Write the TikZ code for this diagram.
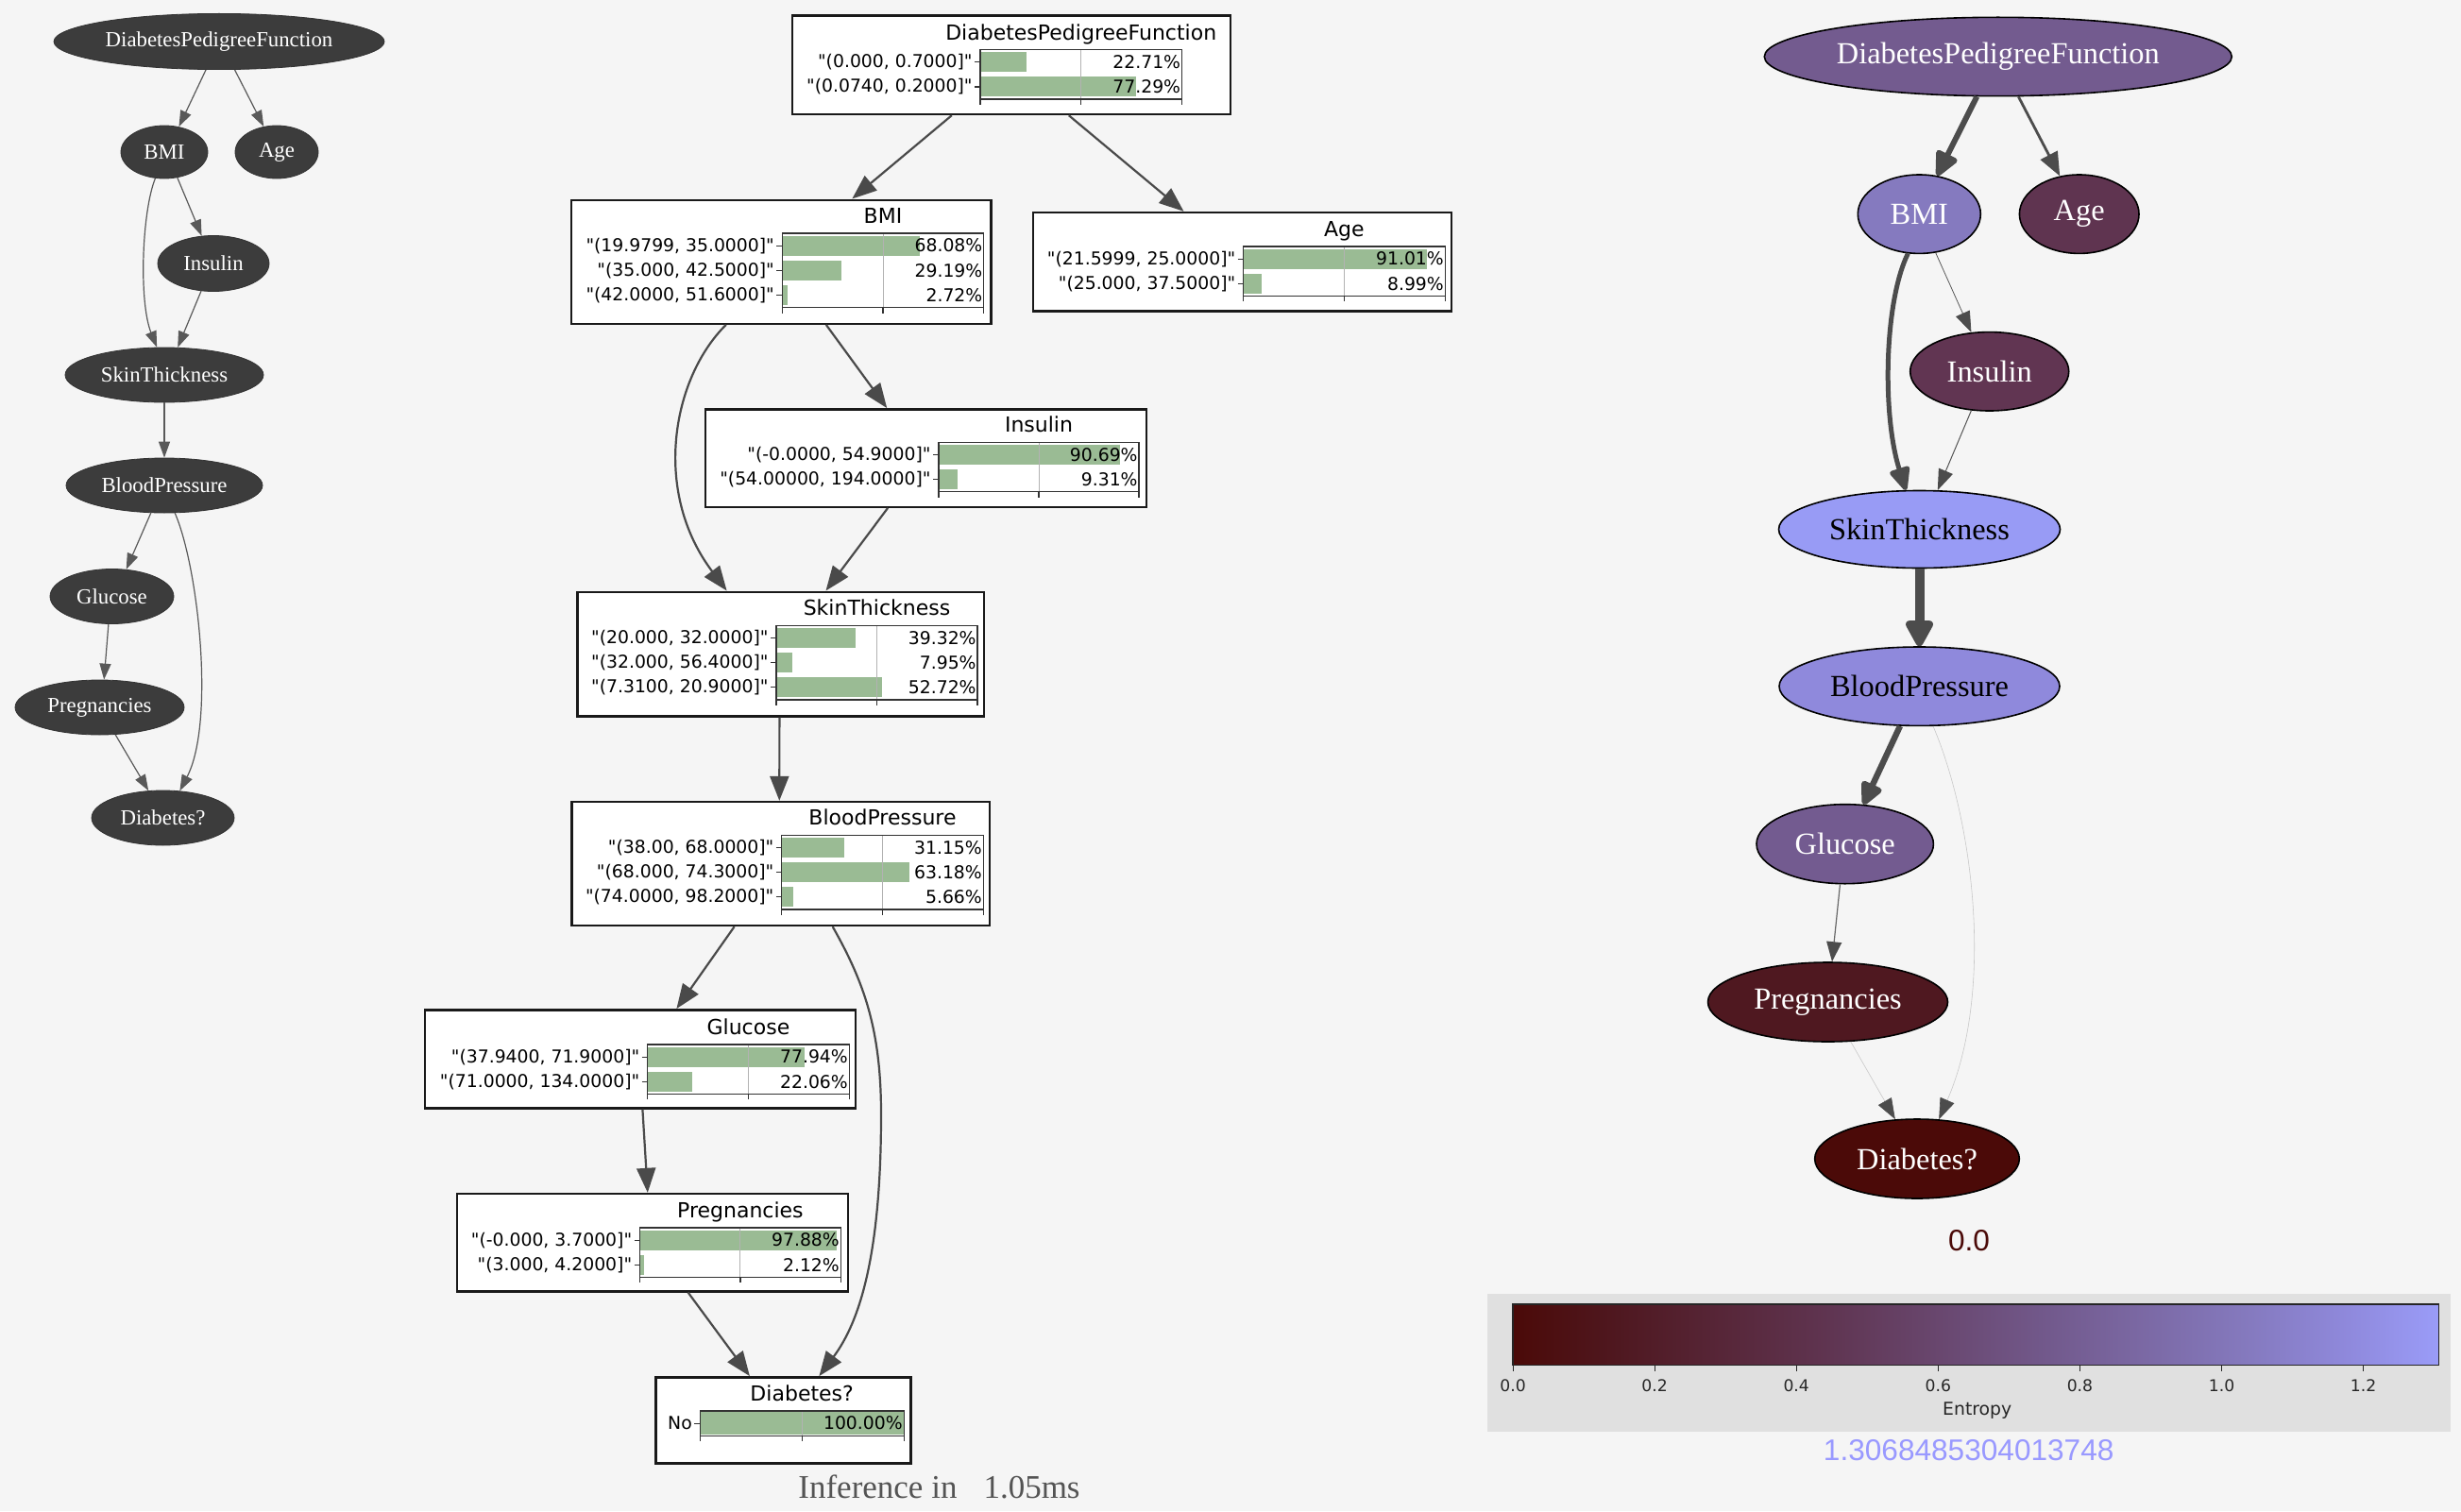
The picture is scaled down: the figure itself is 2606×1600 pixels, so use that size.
\documentclass[tikz,border=0pt]{standalone}
\usepackage{fontspec}
\setmainfont{Liberation Serif}
\newfontfamily\plotfont{DejaVu Sans}
\newfontfamily\helv{Liberation Sans}
\usetikzlibrary{arrows.meta,shapes.geometric,calc}

% palette
\definecolor{bg}{HTML}{F5F5F5}
\definecolor{darknode}{HTML}{3C3C3C}
\definecolor{edgegray}{HTML}{4A4A4A}
\definecolor{bargreen}{HTML}{9ABB94}
\definecolor{panelgray}{HTML}{E0E0E0}
\definecolor{lightedge}{HTML}{C8C8C8}
\definecolor{cDia}{HTML}{4B0A08}
\definecolor{cPreg}{HTML}{4F1820}
\definecolor{cAge}{HTML}{5F3450}
\definecolor{cIns}{HTML}{613552}
\definecolor{cDPF}{HTML}{735B8F}
\definecolor{cGlu}{HTML}{735B90}
\definecolor{cBMI}{HTML}{857ABF}
\definecolor{cBP}{HTML}{8F89DC}
\definecolor{cSkin}{HTML}{989BF5}
\definecolor{cTop}{HTML}{9A9CF8}
\definecolor{maxtext}{HTML}{9999FF}

% entropy colour scale (the path is mapped onto 25bp..75bp)
\pgfdeclarehorizontalshading{entropymap}{100bp}{color(0bp)=(cDia); color(25bp)=(cDia);
  color(30.66bp)=(cPreg); color(41.8bp)=(cAge); color(54.5bp)=(cDPF);
  color(64.8bp)=(cBMI); color(70.1bp)=(cBP); color(75bp)=(cTop); color(100bp)=(cTop)}

\tikzset{
  lnode/.style={ellipse, fill=darknode, draw=black!80, line width=0.4pt, inner sep=0pt,
    text=white, font=\fontsize{11.4}{12}\selectfont},
  ledge/.style={draw=black!65, line width=0.6pt, -{Triangle[length=8.5pt,width=6pt]}},
  cptbox/.style={rectangle, draw=black!90, fill=white, line width=1.2pt, inner sep=0pt},
  cpttitle/.style={font=\plotfont\fontsize{11}{13}\selectfont, anchor=base, inner sep=0pt},
  rowlab/.style={font=\plotfont\fontsize{9.4}{11}\selectfont, anchor=east, inner sep=0pt},
  pctlab/.style={font=\plotfont\fontsize{9.4}{11}\selectfont, anchor=east, inner sep=0pt},
  plotframe/.style={draw=black!80, line width=0.6pt},
  gridline/.style={draw=black!30, line width=0.5pt},
  marrow/.style={draw=edgegray, line width=1.1pt, -{Triangle[length=13pt,width=10pt]}},
  rnode/.style={ellipse, draw=black, line width=0.8pt, inner sep=0pt,
    font=\fontsize{16.2}{18}\selectfont},
  cbtick/.style={font=\plotfont\fontsize{8.6}{10}\selectfont, text=black!85, inner sep=0pt},
}

% horizontal bar chart of a node's marginal: prefix, left, top, right, rows label/value
\newcommand{\probplot}[5]{%
  \pgfmathsetmacro{\pw}{#4-#2}%
  \pgfmathsetmacro{\pmid}{(#2+#4)/2}%
  \foreach \lab/\val [count=\n] in {#5}{\xdef\nrows{\n}}%
  \pgfmathsetmacro{\pbot}{#3+\nrows*26.2}%
  \pgfmathsetmacro{\inset}{\nrows==1 ? 0.8 : 2.6}%
  \foreach \lab/\val [count=\n from 0] in {#5}{%
    \pgfmathsetmacro{\ya}{#3+\n*26.2+\inset}%
    \pgfmathsetmacro{\yb}{#3+(\n+1)*26.2-\inset}%
    \pgfmathsetmacro{\xb}{#2+\pw*(\val/100)}%
    \fill[bargreen] (#2,\ya) rectangle (\xb,\yb);
  }%
  \draw[gridline] (\pmid,#3) -- (\pmid,\pbot);
  \draw[plotframe] (#2,#3) rectangle (#4,\pbot);
  \foreach \tx in {#2,\pmid,#4} \draw[plotframe] (\tx,\pbot) -- (\tx,\pbot+6);
  \foreach \lab/\val [count=\n from 0] in {#5}{%
    \pgfmathsetmacro{\yc}{#3+(\n+0.5)*26.2}%
    \draw[plotframe] (#2-6,\yc) -- (#2,\yc);
    \node[rowlab] (#1-l\n) at (#2-8,\yc) {\lab};
    \node[pctlab] (#1-p\n) at (#4-1,\yc) {\val\%};
  }%
}

\begin{document}
\begin{tikzpicture}[x=0.5pt,y=-0.5pt]
\fill[bg] (0,0) rectangle (2606,1600);
\useasboundingbox (0,0) rectangle (2606,1600);

% ---------------- structure graph (left) ----------------
\node[lnode, minimum width=175pt, minimum height=29.6pt] (ldpf) at (232,44) {DiabetesPedigreeFunction};
\node[lnode, minimum width=46pt, minimum height=28pt] (lbmi) at (174,161) {BMI};
\node[lnode, minimum width=44pt, minimum height=28pt] (lage) at (293,161) {Age};
\node[lnode, minimum width=59pt, minimum height=29.5pt] (lins) at (226,279) {Insulin};
\node[lnode, minimum width=105pt, minimum height=29pt] (lskin) at (174,397) {SkinThickness};
\node[lnode, minimum width=104pt, minimum height=29pt] (lbp) at (174,514) {BloodPressure};
\node[lnode, minimum width=65.5pt, minimum height=29pt] (lglu) at (118.5,631.5) {Glucose};
\node[lnode, minimum width=89.5pt, minimum height=29pt] (lpreg) at (105.5,749) {Pregnancies};
\node[lnode, minimum width=75.5pt, minimum height=29pt] (ldia) at (172.5,866) {Diabetes?};

\draw[ledge] (ldpf.-115) -- (lbmi.60);
\draw[ledge] (ldpf.-61) -- (lage.117.7);
\draw[ledge] (lbmi.-63.3) -- (lins.113.4);
\draw[ledge] (lbmi.-109.4) .. controls (150,225) and (147,320) .. (lskin.105.7);
\draw[ledge] (lins.-114.7) -- (lskin.64.2);
\draw[ledge] (lskin.south) -- (lbp.north);
\draw[ledge] (lbp.-116.4) -- (lglu.62.7);
\draw[ledge] (lbp.-69.6) .. controls (210,600) and (228,765) .. (ldia.58.9);
\draw[ledge] (lglu.-97) -- (lpreg.81);
\draw[ledge] (lpreg.-60.6) -- (ldia.118.6);

% ---------------- marginal distributions (middle) ----------------
\node[cptbox, minimum width=231.85pt, minimum height=52.15pt] (dpfbox) at (1071.05,68.85) {};
\node[cptbox, minimum width=222.15pt, minimum height=65.5pt] (bmibox) at (827.15,277.2) {};
\node[cptbox, minimum width=221.5pt, minimum height=52.15pt] (agebox) at (1315.5,277.15) {};
\node[cptbox, minimum width=233.3pt, minimum height=51.7pt] (insbox) at (980.4,485) {};
\node[cptbox, minimum width=215.4pt, minimum height=65.8pt] (skinbox) at (826.8,692.5) {};
\node[cptbox, minimum width=221.45pt, minimum height=65.5pt] (bpbox) at (826.75,914.5) {};
\node[cptbox, minimum width=227.95pt, minimum height=52pt] (glubox) at (678.15,1121.3) {};
\node[cptbox, minimum width=206.95pt, minimum height=51.65pt] (pregbox) at (691.05,1315.65) {};
\node[cptbox, minimum width=135.1pt, minimum height=45.5pt] (diabox) at (829.4,1503.8) {};

\node[cpttitle] (dpf-t) at (1144.75,42.2) {DiabetesPedigreeFunction};
\probplot{dpf}{1038}{52.7}{1251.5}{{"(0.000, 0.7000]"}/22.71,{"(0.0740, 0.2000]"}/77.29}
\node[cpttitle] (bmi-t) at (935,236.5) {BMI};
\probplot{bmi}{828.3}{247}{1041.7}{{"(19.9799, 35.0000]"}/68.08,{"(35.000, 42.5000]"}/29.19,{"(42.0000, 51.6000]"}/2.72}
\node[cpttitle] (age-t) at (1423.45,250.5) {Age};
\probplot{age}{1316.7}{261}{1530.2}{{"(21.5999, 25.0000]"}/91.01,{"(25.000, 37.5000]"}/8.99}
\node[cpttitle] (ins-t) at (1100,457.8) {Insulin};
\probplot{ins}{994}{468.3}{1206}{{"(-0.0000, 54.9000]"}/90.69,{"(54.00000, 194.0000]"}/9.31}
\node[cpttitle] (skin-t) at (928.5,651.8) {SkinThickness};
\probplot{skin}{822}{662.3}{1035}{{"(20.000, 32.0000]"}/39.32,{"(32.000, 56.4000]"}/7.95,{"(7.3100, 20.9000]"}/52.72}
\node[cpttitle] (bp-t) at (934.5,873.8) {BloodPressure};
\probplot{bp}{827.8}{884.3}{1041.2}{{"(38.00, 68.0000]"}/31.15,{"(68.000, 74.3000]"}/63.18,{"(74.0000, 98.2000]"}/5.66}
\node[cpttitle] (glu-t) at (792.45,1095.5) {Glucose};
\probplot{glu}{685.7}{1106}{899.2}{{"(37.9400, 71.9000]"}/77.94,{"(71.0000, 134.0000]"}/22.06}
\node[cpttitle] (preg-t) at (783.9,1289.5) {Pregnancies};
\probplot{preg}{677.6}{1300}{890.2}{{"(-0.000, 3.7000]"}/97.88,{"(3.000, 4.2000]"}/2.12}
\node[cpttitle] (dia-t) at (849.15,1483.5) {Diabetes?};
\probplot{dia}{741.2}{1494}{957.1}{{No}/100.00}

\draw[marrow] ($(dpfbox.south west)+(169.8,0)$) -- ($(bmibox.north west)+(298.5,0)$);
\draw[marrow] ($(dpfbox.south west)+(293.8,0)$) -- ($(agebox.north west)+(160.7,0)$);
\draw[marrow] ($(bmibox.south west)+(271,0)$) -- ($(insbox.north west)+(193.3,0)$);
\draw[marrow] ($(bmibox.south west)+(165,0)$) .. controls (712,400) and (690,520) .. ($(skinbox.north west)+(159.4,0)$);
\draw[marrow] ($(insbox.south west)+(194.2,0)$) -- ($(skinbox.north west)+(264.3,0)$);
\draw[marrow] ($(skinbox.south west)+(215.2,0)$) -- ($(bpbox.north west)+(221.2,0)$);
\draw[marrow] ($(bpbox.south west)+(173.5,0)$) -- ($(glubox.north west)+(267.4,0)$);
\draw[marrow] ($(bpbox.south west)+(277.6,0)$) .. controls (915,1040) and (933,1090) .. (933,1180)
  .. controls (933,1330) and (910,1400) .. ($(diabox.north west)+(174.3,0)$);
\draw[marrow] ($(glubox.south west)+(231.4,0)$) -- ($(pregbox.north west)+(202.9,0)$);
\draw[marrow] ($(pregbox.south west)+(245.7,0)$) -- ($(diabox.north west)+(100.8,0)$);

\node[font=\fontsize{17.5}{20}\selectfont, text=black!67, anchor=base west, inner sep=0pt] (timing)
  at (845,1586.7) {Inference in\hspace{14pt}1.05ms};

% ---------------- entropy-coloured graph (right) ----------------
\node[rnode, fill=cDPF, text=white, minimum width=247.5pt, minimum height=41.7pt] (rdpf) at (2115.8,60) {DiabetesPedigreeFunction};
\node[rnode, fill=cBMI, text=white, minimum width=65pt, minimum height=41.7pt] (rbmi) at (2032.3,226.7) {BMI};
\node[rnode, fill=cAge, text=white, minimum width=63.3pt, minimum height=41.7pt] (rage) at (2201.7,226.7) {Age};
\node[rnode, fill=cIns, text=white, minimum width=84pt, minimum height=41.7pt] (rins) at (2106.7,393.3) {Insulin};
\node[rnode, fill=cSkin, text=black, minimum width=149pt, minimum height=41pt] (rskin) at (2032.5,560.5) {SkinThickness};
\node[rnode, fill=cBP, text=black, minimum width=148.5pt, minimum height=41.7pt] (rbp) at (2032.5,726.7) {BloodPressure};
\node[rnode, fill=cGlu, text=white, minimum width=93.7pt, minimum height=42pt] (rglu) at (1953.7,893.7) {Glucose};
\node[rnode, fill=cPreg, text=white, minimum width=127pt, minimum height=42pt] (rpreg) at (1935.5,1061) {Pregnancies};
\node[rnode, fill=cDia, text=white, minimum width=108.3pt, minimum height=42pt] (rdia) at (2030,1227) {Diabetes?};

\draw[draw=black!70, line width=3pt, -{Triangle[length=15pt,width=13pt,round]}] (rdpf.-118.4) -- (rbmi.65.1);
\draw[draw=black!70, line width=1.4pt, -{Triangle[length=12.5pt,width=10pt]}] (rdpf.-63.4) -- (rage.117);
\draw[draw=black!65, line width=0.4pt, -{Triangle[length=11pt,width=8pt,color=black!70]}] (rbmi.-67) -- (rins.115);
\draw[draw=black!70, line width=2.5pt, -{Triangle[length=14pt,width=11.5pt,round]}] (rbmi.-106.5) .. controls (1995,320) and (1993,440) .. (rskin.109);
\draw[draw=black!67, line width=0.5pt, -{Triangle[length=11pt,width=8pt,color=black!70]}] (rins.-115) -- (rskin.65);
\draw[draw=black!70, line width=5pt, -{Triangle[length=16pt,width=16pt,round]}] (rskin.south) -- (rbp.north);
\draw[draw=black!70, line width=3.2pt, -{Triangle[length=14pt,width=12.5pt,round]}] (rbp.-116) -- (rglu.65.7);
\draw[draw=lightedge, line width=0.3pt, -{Triangle[length=11pt,width=8pt,color=black!70]}] (rbp.-71.2) .. controls (2090,870) and (2112,1050) .. (rdia.61);
\draw[draw=black!60, line width=0.6pt, -{Triangle[length=10.5pt,width=8pt,color=black!70]}] (rglu.-97.3) -- (rpreg.84);
\draw[draw=lightedge, line width=0.3pt, -{Triangle[length=11pt,width=8pt,color=black!70]}] (rpreg.-60) -- (rdia.119);

% entropy scale
\node[font=\helv\fontsize{15.8}{18}\selectfont, text=cDia, inner sep=0pt] (minval) at (2085,1314) {0.0};
\fill[panelgray] (1574.7,1370) rectangle (2595.3,1516);
\shade[shading=entropymap] (1602,1381) rectangle (2582.7,1445.7);
\draw[draw=black!85, line width=0.7pt] (1602,1381) rectangle (2582.7,1445.7);
\foreach \v [count=\k from 0] in {0.0,0.2,0.4,0.6,0.8,1.0,1.2}{
  \draw[black!85, line width=0.5pt] (1602+750.5*\v,1445.7) -- (1602+750.5*\v,1452);
  \node[cbtick] (cbt\k) at (1602+750.5*\v,1467) {\v};
}
\node[font=\plotfont\fontsize{9.4}{11}\selectfont, text=black!85, inner sep=0pt] (cblabel) at (2093.7,1494) {Entropy};
\node[font=\helv\fontsize{15.8}{18}\selectfont, text=maxtext, inner sep=0pt] (maxval) at (2084.7,1536) {1.3068485304013748};
\end{tikzpicture}
\end{document}
